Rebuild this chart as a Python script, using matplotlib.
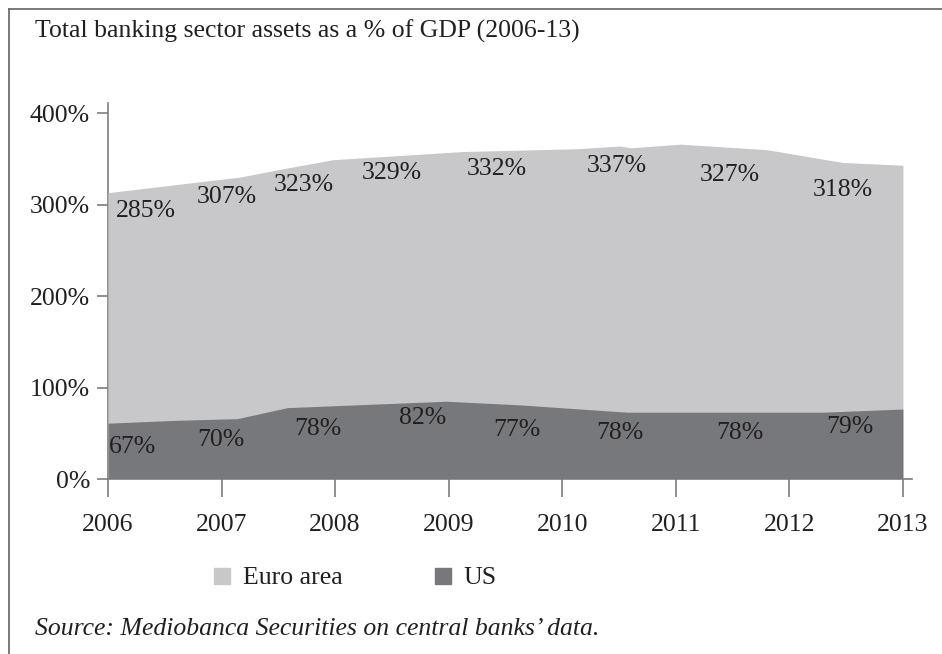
import matplotlib
matplotlib.use("Agg")
import matplotlib.pyplot as plt
from matplotlib.lines import Line2D

plt.rcParams['font.family'] = ['Liberation Serif', 'DejaVu Serif']

# outline of the stacked areas (x in fractional years)
total_x = [2006.0, 2007.16, 2007.58, 2007.98, 2009.13, 2010.13, 2010.51, 2010.60, 2011.04, 2011.80, 2012.47, 2013.0]
total_y = [313, 330, 340, 349, 358, 361, 364, 362, 366, 360, 346, 343]
us_x = [2006.0, 2006.57, 2007.14, 2007.58, 2008.98, 2009.63, 2010.57, 2012.29, 2013.0]
us_y = [61, 64, 66, 78, 85, 81, 73, 73, 76.5]

# value labels as printed on the chart
euro_labels = ["285%", "307%", "323%", "329%", "332%", "337%", "327%", "318%"]
euro_lab_x = [2006.33, 2007.05, 2007.72, 2008.50, 2009.42, 2010.48, 2011.48, 2012.47]
euro_lab_y = [293, 308, 321, 334, 339, 342, 332, 316]
us_labels = ["67%", "70%", "78%", "82%", "77%", "78%", "78%", "79%"]
us_lab_x = [2006.22, 2006.99, 2007.85, 2008.77, 2009.60, 2010.51, 2011.56, 2012.53]
us_lab_y = [35, 43, 55, 67, 54, 50, 50, 57]

years = [2006, 2007, 2008, 2009, 2010, 2011, 2012, 2013]
y_ticks = [0, 100, 200, 300, 400]

euro_col = "#c8c8ca"
us_col = "#77787c"
txt_col = "#231f20"
axis_col = "#7d7d80"
fs = 18.5

W, H = 942, 654
fig = plt.figure(figsize=(W / 100, H / 100), dpi=100)
ax = fig.add_axes([108 / W, 1 - 479 / H, (912 - 108) / W, (479 - 103) / H])

ax.fill_between(total_x, 0, total_y, color=euro_col, lw=0, zorder=1)
ax.fill_between(us_x, 0, us_y, color=us_col, lw=0, zorder=2)

for t, x, y in zip(euro_labels, euro_lab_x, euro_lab_y):
    ax.text(x, y, t, ha="center", va="center", fontsize=fs, color=txt_col, zorder=3)
for t, x, y in zip(us_labels, us_lab_x, us_lab_y):
    ax.text(x, y, t, ha="center", va="center", fontsize=fs, color=txt_col, zorder=3)

ax.set_xlim(2006, 2013.08)
ax.set_ylim(0, 411)
ax.set_xticks(years)
ax.set_xticklabels([str(y) for y in years])
ax.set_yticks(y_ticks)
ax.set_yticklabels([f"{v}%" for v in y_ticks])
for s in ["top", "right"]:
    ax.spines[s].set_visible(False)
for s in ["left", "bottom"]:
    ax.spines[s].set_color(axis_col)
    ax.spines[s].set_linewidth(1.2)
    ax.spines[s].set_zorder(0)
ax.tick_params(axis="y", direction="out", length=8, width=1.2, color=axis_col,
               pad=5, labelsize=fs, labelcolor=txt_col)
ax.tick_params(axis="x", direction="out", length=13, width=1.2, color=axis_col,
               pad=12, labelsize=fs, labelcolor=txt_col)
ax.set_facecolor("none")

# legend
handles = [Line2D([], [], ls="", marker="s", ms=12, mfc=euro_col, mec=euro_col),
           Line2D([], [], ls="", marker="s", ms=12, mfc=us_col, mec=us_col)]
fig.legend(handles, ["Euro area", "US"], loc="center left",
           bbox_to_anchor=(189 / W, 1 - 578 / H), ncol=2, frameon=False,
           fontsize=fs, handlelength=0.8, handletextpad=0.4, columnspacing=3.5,
           labelcolor=txt_col)

fig.text(35 / W, 1 - 31 / H, "Total banking sector assets as a % of GDP (2006-13)",
         fontsize=fs, color=txt_col, va="center", ha="left")
fig.text(35 / W, 1 - 629 / H, "Source: Mediobanca Securities on central banks\u2019 data.",
         fontsize=fs, color=txt_col, va="center", ha="left", style="italic")

# outer frame (left and top edges visible)
fig.add_artist(Line2D([8.5 / W, 8.5 / W], [0, 1 - 8.5 / H], transform=fig.transFigure,
                      color="#6d6e70", lw=1.3))
fig.add_artist(Line2D([8.5 / W, 1], [1 - 8.5 / H, 1 - 8.5 / H], transform=fig.transFigure,
                      color="#6d6e70", lw=1.3))

fig.savefig("out.png", dpi=100)
